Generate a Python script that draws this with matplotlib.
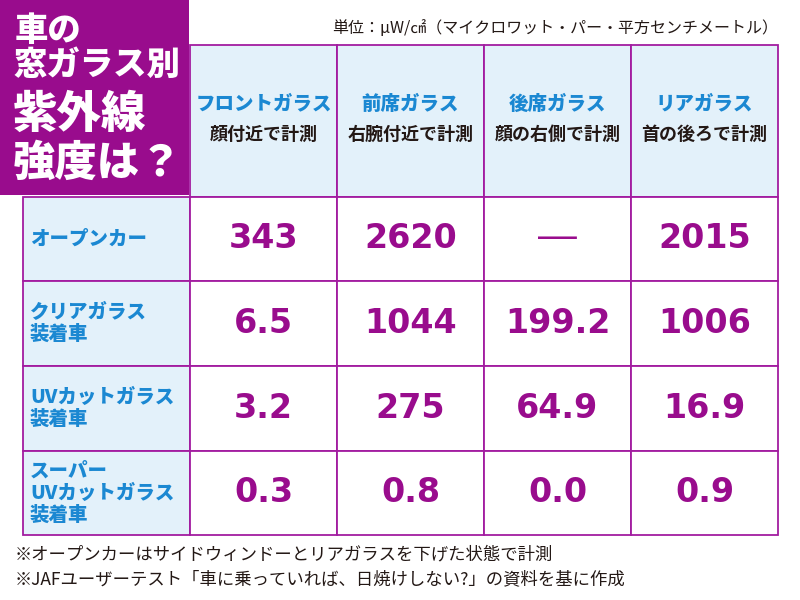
import matplotlib
matplotlib.use("Agg")
import matplotlib.pyplot as plt
from matplotlib.patches import Rectangle

plt.rcParams['font.family'] = ['Noto Sans CJK JP', 'DejaVu Sans']

# ---- data ----
title_small = ["車の", "窓ガラス別"]
title_big = ["紫外線", "強度は？"]
unit_text = "単位：μW/㎠（マイクロワット・パー・平方センチメートル）"
col_names = ["フロントガラス", "前席ガラス", "後席ガラス", "リアガラス"]
col_subs = ["顔付近で計測", "右腕付近で計測", "顔の右側で計測", "首の後ろで計測"]
row_labels = ["オープンカー", "クリアガラス\n装着車", "UVカットガラス\n装着車",
              "スーパー\nUVカットガラス\n装着車"]
values = [
    ["343", "2620", "—", "2015"],
    ["6.5", "1044", "199.2", "1006"],
    ["3.2", "275", "64.9", "16.9"],
    ["0.3", "0.8", "0.0", "0.9"],
]
notes = ["※オープンカーはサイドウィンドーとリアガラスを下げた状態で計測",
         "※JAFユーザーテスト「車に乗っていれば、日焼けしない?」の資料を基に作成"]

# ---- style ----
PURPLE = "#990C8D"
LINE = "#A21CA0"
LIGHT = "#E3F1FA"
BLUE = "#1B88D2"
DARK = "#231815"
LW = 1.3

fig = plt.figure(figsize=(8, 6), dpi=100)
ax = fig.add_axes([0, 0, 1, 1])
ax.set_xlim(0, 800)
ax.set_ylim(600, 0)
ax.axis('off')

# layout
x_left = 23
col_x = [190, 337, 484, 631, 778]
head_top, head_bot = 45, 197
row_y = [197, 281, 366, 451, 535]

# title box
ax.add_patch(Rectangle((0, 0), 189, 195, facecolor=PURPLE, edgecolor='none', zorder=4))
ax.text(15, 31, title_small[0], color='white', fontsize=24, fontweight='heavy',
        ha='left', va='center', zorder=5)
ax.text(13, 64, title_small[1], color='white', fontsize=24, fontweight='heavy',
        ha='left', va='center', zorder=5)
ax.text(13, 114, title_big[0], color='white', fontsize=32, fontweight='heavy',
        ha='left', va='center', zorder=5)
ax.text(13, 163, title_big[1], color='white', fontsize=30.5, fontweight='heavy',
        ha='left', va='center', zorder=5)

# unit
ax.text(778, 28, unit_text, fontsize=11.5, color=DARK, ha='right', va='center')

# header cells
for j in range(4):
    x0, x1 = col_x[j], col_x[j + 1]
    ax.add_patch(Rectangle((x0, head_top), x1 - x0, head_bot - head_top,
                           facecolor=LIGHT, edgecolor=LINE, linewidth=LW, zorder=2))
    cx = (x0 + x1) / 2
    ax.text(cx, 104, col_names[j], color=BLUE, fontsize=14, fontweight='heavy',
            ha='center', va='center', zorder=3)
    ax.text(cx, 134, col_subs[j], color=DARK, fontsize=13, fontweight='bold',
            ha='center', va='center', zorder=3)

# body
for i in range(4):
    y0, y1 = row_y[i], row_y[i + 1]
    cy = (y0 + y1) / 2
    ax.add_patch(Rectangle((x_left, y0), col_x[0] - x_left, y1 - y0,
                           facecolor=LIGHT, edgecolor=LINE, linewidth=LW, zorder=2))
    ax.text(30, cy, row_labels[i], color=BLUE, fontsize=14, fontweight='heavy',
            ha='left', va='center', linespacing=1.2, zorder=3)
    for j in range(4):
        x0, x1 = col_x[j], col_x[j + 1]
        ax.add_patch(Rectangle((x0, y0), x1 - x0, y1 - y0,
                               facecolor='white', edgecolor=LINE, linewidth=LW, zorder=2))
        v = values[i][j]
        if v == "—":
            ax.text((x0 + x1) / 2, cy - 1, v, color=PURPLE, fontsize=28,
                    family='Liberation Sans', fontweight='normal',
                    ha='center', va='center', zorder=3)
        else:
            ax.text((x0 + x1) / 2, cy, v, color=PURPLE, fontsize=24,
                    family='DejaVu Sans', fontweight='bold',
                    ha='center', va='center', zorder=3)

# notes
ax.text(15, 554, notes[0], fontsize=12.5, color=DARK, ha='left', va='center')
ax.text(15, 579, notes[1], fontsize=12.5, color=DARK, ha='left', va='center')

fig.savefig("out.png", dpi=100, facecolor='white')
